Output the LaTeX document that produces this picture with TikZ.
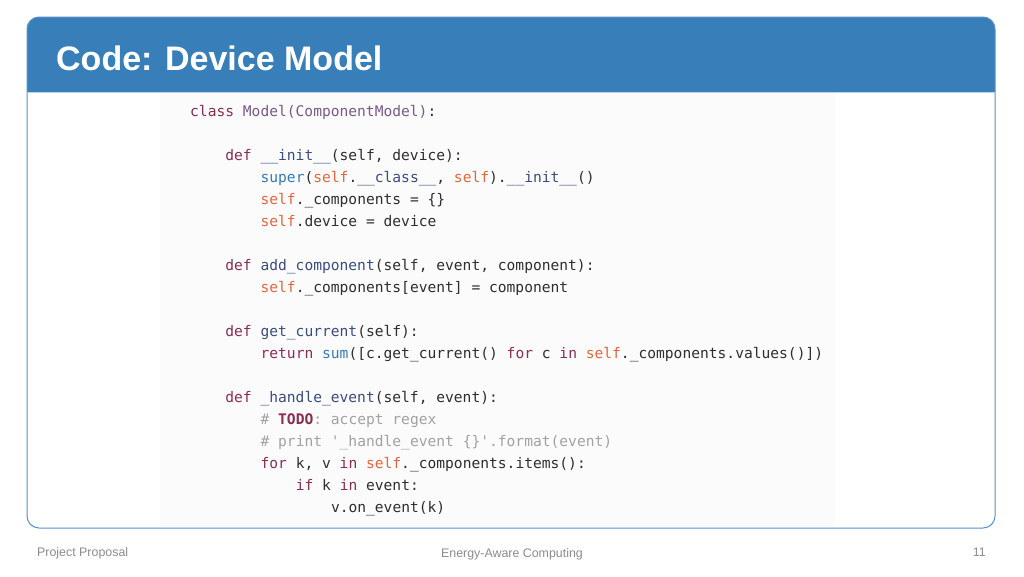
\documentclass[tikz,border=0pt]{standalone}
\usepackage{fontspec}
\setmainfont{Liberation Sans}
\setmonofont{DejaVu Sans Mono}
\usetikzlibrary{positioning}
\definecolor{hdrblue}{HTML}{387FBA}
\definecolor{frameblue}{HTML}{5B90C8}
\definecolor{codebg}{HTML}{FBFBFB}
\definecolor{plain}{HTML}{2E2E2E}
\definecolor{kwc}{HTML}{8A2D52}
\definecolor{fnc}{HTML}{3B4C80}
\definecolor{bic}{HTML}{3579B8}
\definecolor{slfc}{HTML}{E2663F}
\definecolor{clsc}{HTML}{7A5A86}
\definecolor{cmtc}{HTML}{A2A2A2}
\definecolor{footc}{HTML}{8C8C8C}
\newcommand\kw[1]{\textcolor{kwc}{#1}}
\newcommand\fn[1]{\textcolor{fnc}{#1}}
\newcommand\bi[1]{\textcolor{bic}{#1}}
\newcommand\slf{\textcolor{slfc}{self}}
\newcommand\cmt[1]{\textcolor{cmtc}{#1}}
\tikzset{
  codeline/.style={anchor=base west, inner sep=0pt, text=plain,
    font=\fontsize{14.6}{16}\ttfamily},
  foot/.style={inner sep=0pt, text=footc, font=\fontsize{12.4}{14}\selectfont},
}
\begin{document}
\begin{tikzpicture}[x=1pt,y=-1pt]
\useasboundingbox (0,0) rectangle (1024,576);
\fill[white] (0,0) rectangle (1024,576);
% frame
\fill[codebg] (160,93) rectangle (835,527);
\fill[hdrblue] (27,92) [rounded corners=12] -- (27,17) -- (995,17) [sharp corners] -- (995,92) -- cycle;
\draw[frameblue, line width=1pt, rounded corners=12] (27,17) rectangle (995,528);
\draw[frameblue!40, line width=0.8pt] (27.5,92.5) -- (994.5,92.5);
\node[anchor=base west, inner sep=0pt, text=white, font=\fontsize{34}{40}\bfseries] (title) at (56,70) {Code: Device Model};
% code
\node[codeline] (l1) at (190,116) {\kw{class} \textcolor{clsc}{Model(ComponentModel)}:};
\node[codeline] (l2) at (225.2,160) {\kw{def} \fn{\_\_init\_\_}(self, device):};
\node[codeline] (l3) at (260.4,182) {\bi{super}(\slf.\fn{\_\_class\_\_}, \slf).\fn{\_\_init\_\_}()};
\node[codeline] (l4) at (260.4,204) {\slf.\_components = \{\}};
\node[codeline] (l5) at (260.4,226) {\slf.device = device};
\node[codeline] (l6) at (225.2,270) {\kw{def} \fn{add\_component}(self, event, component):};
\node[codeline] (l7) at (260.4,292) {\slf.\_components[event] = component};
\node[codeline] (l8) at (225.2,336) {\kw{def} \fn{get\_current}(self):};
\node[codeline] (l9) at (260.4,358) {\kw{return} \bi{sum}([c.get\_current() \kw{for} c \kw{in} \slf.\_components.values()])};
\node[codeline] (l10) at (225.2,402) {\kw{def} \fn{\_handle\_event}(self, event):};
\node[codeline] (l11) at (260.4,424) {\cmt{\# }\textcolor{kwc}{\bfseries TODO}\cmt{: accept regex}};
\node[codeline] (l12) at (260.4,446) {\cmt{\# print \char"27\_handle\_event \{\}\char"27.format(event)}};
\node[codeline] (l13) at (260.4,468) {\kw{for} k, v \kw{in} \slf.\_components.items():};
\node[codeline] (l14) at (295.6,490) {\kw{if} k \kw{in} event:};
\node[codeline] (l15) at (330.8,512) {v.on\_event(k)};
% footer
\node[foot, anchor=base west] (fl) at (37,556) {Project Proposal};
\node[foot, anchor=base] (fc) at (512,557) {Energy-Aware Computing};
\node[foot, anchor=base east] (fr) at (986,556) {11};
\end{tikzpicture}
\end{document}
